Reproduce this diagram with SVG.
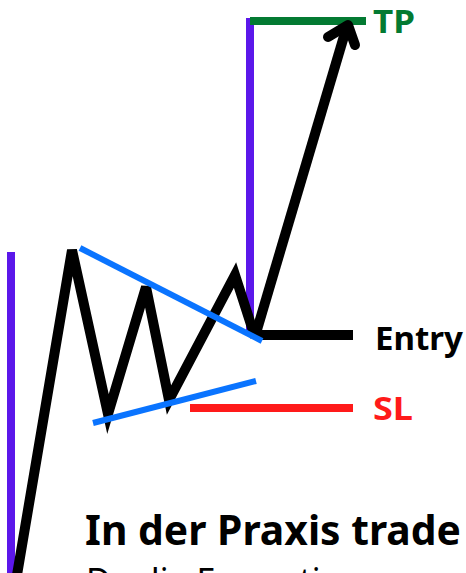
<svg xmlns="http://www.w3.org/2000/svg" width="466" height="573" viewBox="0 0 466 573">
<style>
.blk{fill:none;stroke:#000;stroke-width:10;stroke-linejoin:miter}
.pur{stroke:#5b17ea;stroke-width:8}
.blu{stroke:#0a74ff;stroke-width:6}
.lbl{font-family:"Noto Sans","Liberation Sans",sans-serif;font-weight:700}
</style>
<rect width="466" height="573" fill="#fff"/>
<g id="levels">
<line class="pur" x1="11" y1="252" x2="11" y2="573"/>
<line class="pur" x1="250" y1="18" x2="250" y2="336"/>
<line x1="250" y1="21" x2="366" y2="21" stroke="#037a32" stroke-width="8"/>
<line x1="190" y1="408" x2="353" y2="408" stroke="#ff1a1a" stroke-width="8"/>
</g>
<g id="price">
<polyline class="blk" points="17,575 72,250 108,414 146,287 169,400 235,275 255,337"/>
<line x1="255" y1="335" x2="353" y2="335" stroke="#000" stroke-width="10"/>
</g>
<g id="triangle">
<line class="blu" x1="80" y1="248" x2="262" y2="341"/>
<line class="blu" x1="93" y1="423" x2="256" y2="381"/>
</g>
<g id="arrow">
<line x1="256" y1="333" x2="347" y2="26" stroke="#000" stroke-width="10"/>
<polyline points="328,37 348,25 355,45" fill="none" stroke="#000" stroke-width="10" stroke-linecap="round" stroke-linejoin="round"/>
</g>
<g id="labels">
<text class="lbl" x="373" y="33" font-size="33" fill="#037a32" textLength="42" lengthAdjust="spacingAndGlyphs">TP</text>
<text class="lbl" x="375" y="350" font-size="33" fill="#000" textLength="88" lengthAdjust="spacingAndGlyphs">Entry</text>
<text class="lbl" x="373" y="420" font-size="33" fill="#ff1a1a" textLength="40" lengthAdjust="spacingAndGlyphs">SL</text>
<text class="lbl" x="85" y="545" font-size="42" fill="#000" textLength="376" lengthAdjust="spacingAndGlyphs">In der Praxis trade</text>
<text x="86" y="593" font-family="Noto Sans,Liberation Sans,sans-serif" font-size="34" fill="#000">Da die Formation</text>
</g>
</svg>
